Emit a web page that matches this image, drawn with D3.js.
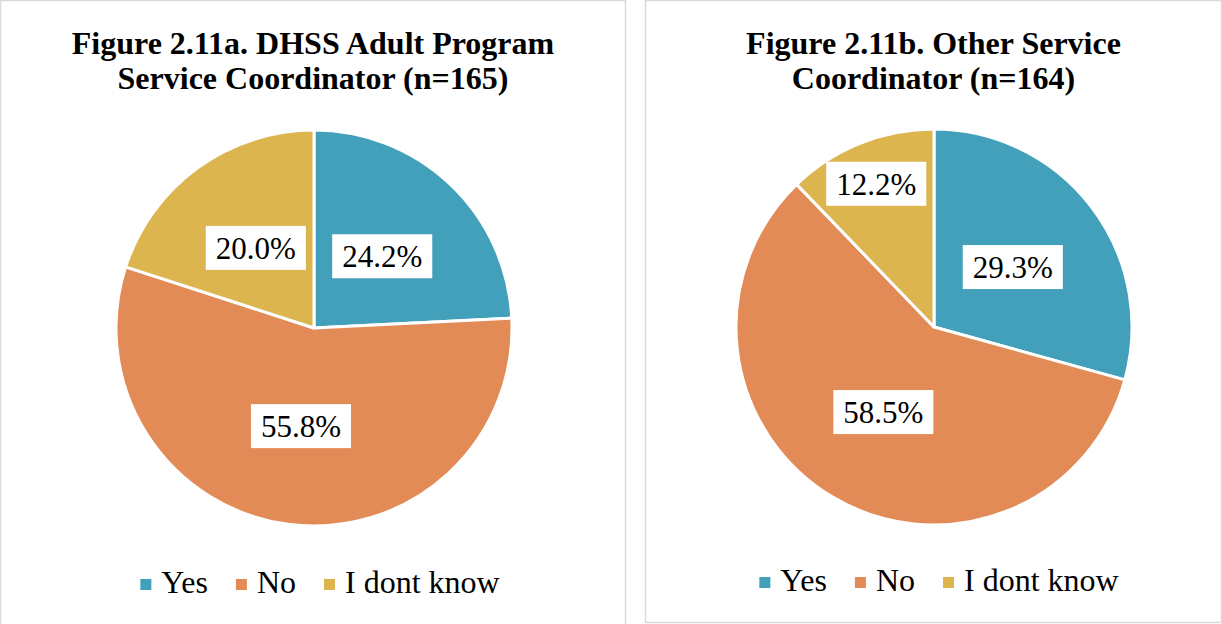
<!DOCTYPE html>
<html>
<head>
<meta charset="utf-8">
<script src="https://cdn.jsdelivr.net/npm/d3@7"></script>
<style>
  body { margin: 0; background: #fff; }
  svg { display: block; font-family: "Liberation Serif", "Times New Roman", serif; }
</style>
</head>
<body>
<svg id="chart" width="1222" height="624"></svg>
<script>
// data
const categories = ["Yes", "No", "I dont know"];
const colors = ["#43A0BA", "#E38B56", "#DDB54F"];
const titlesA = ["Figure 2.11a. DHSS Adult Program", "Service Coordinator (n=165)"];
const titlesB = ["Figure 2.11b. Other Service", "Coordinator (n=164)"];
const valuesA = [24.2, 55.8, 20.0];
const valuesB = [29.3, 58.5, 12.2];

const svg = d3.select("#chart");

function drawPanel(opts) {
  const g = svg.append("g");
  // panel border
  g.append("rect")
   .attr("x", opts.x + 0.5).attr("y", opts.y + 0.5)
   .attr("width", opts.w - 1).attr("height", opts.h - 1)
   .attr("fill", "#fff").attr("stroke", "#d9d9d9").attr("stroke-width", 1.5);

  const cx = opts.x + opts.w / 2;
  // title
  opts.title.forEach((t, i) => {
    g.append("text")
     .attr("x", cx).attr("y", 54 + i * 35)
     .attr("text-anchor", "middle")
     .attr("font-weight", "bold")
     .attr("font-size", 32)
     .text(t);
  });

  const R = 198;
  const data = opts.values.map((v, i) => ({ name: categories[i], value: v, color: colors[i] }));
  const pie = d3.pie().sort(null).value(d => d.value);
  const arcs = pie(data);
  const arc = d3.arc().innerRadius(0).outerRadius(R);

  const pg = g.append("g").attr("transform", `translate(${opts.cx},${opts.cy})`);
  pg.selectAll("path")
    .data(arcs)
    .enter().append("path")
    .attr("d", arc)
    .attr("fill", d => d.data.color)
    .attr("stroke", "#fff")
    .attr("stroke-width", 3)
    .attr("stroke-linejoin", "round");

  // labels
  arcs.forEach(d => {
    const share = d.data.value / 100;
    const lr = share < 0.15 ? R * 0.78 : R * 0.5;
    const pos = d3.arc().innerRadius(lr).outerRadius(lr).centroid(d);
    const label = d.data.value.toFixed(1) + "%";
    const lg = pg.append("g").attr("transform", `translate(${pos[0]},${pos[1]})`);
    const txt = lg.append("text")
      .attr("text-anchor", "middle")
      .attr("dy", "0.35em")
      .attr("font-size", 31)
      .text(label);
    const bb = txt.node().getBBox();
    lg.insert("rect", "text")
      .attr("x", bb.x - 10).attr("y", -22)
      .attr("width", bb.width + 20).attr("height", 44)
      .attr("fill", "#fff");
  });

  // legend
  const lg = g.append("g");
  let xx = 0;
  categories.forEach((c, i) => {
    const item = lg.append("g").attr("transform", `translate(${xx},0)`);
    item.append("rect")
      .attr("x", 0).attr("y", -14).attr("width", 11).attr("height", 11)
      .attr("fill", colors[i]);
    const t = item.append("text")
      .attr("x", 21).attr("y", 0)
      .attr("font-size", 32)
      .text(c);
    xx += 21 + t.node().getComputedTextLength() + 28;
  });
  const totalW = xx - 28;
  lg.attr("transform", `translate(${opts.legendCx - totalW / 2},${opts.legendY})`);
}

drawPanel({ x: 0, y: 0, w: 626, h: 630, cx: 314, cy: 328, title: titlesA, values: valuesA, legendCx: 320, legendY: 593 });
drawPanel({ x: 645, y: 0, w: 577, h: 623, cx: 934, cy: 327, title: titlesB, values: valuesB, legendCx: 939, legendY: 591 });
</script>
</body>
</html>
